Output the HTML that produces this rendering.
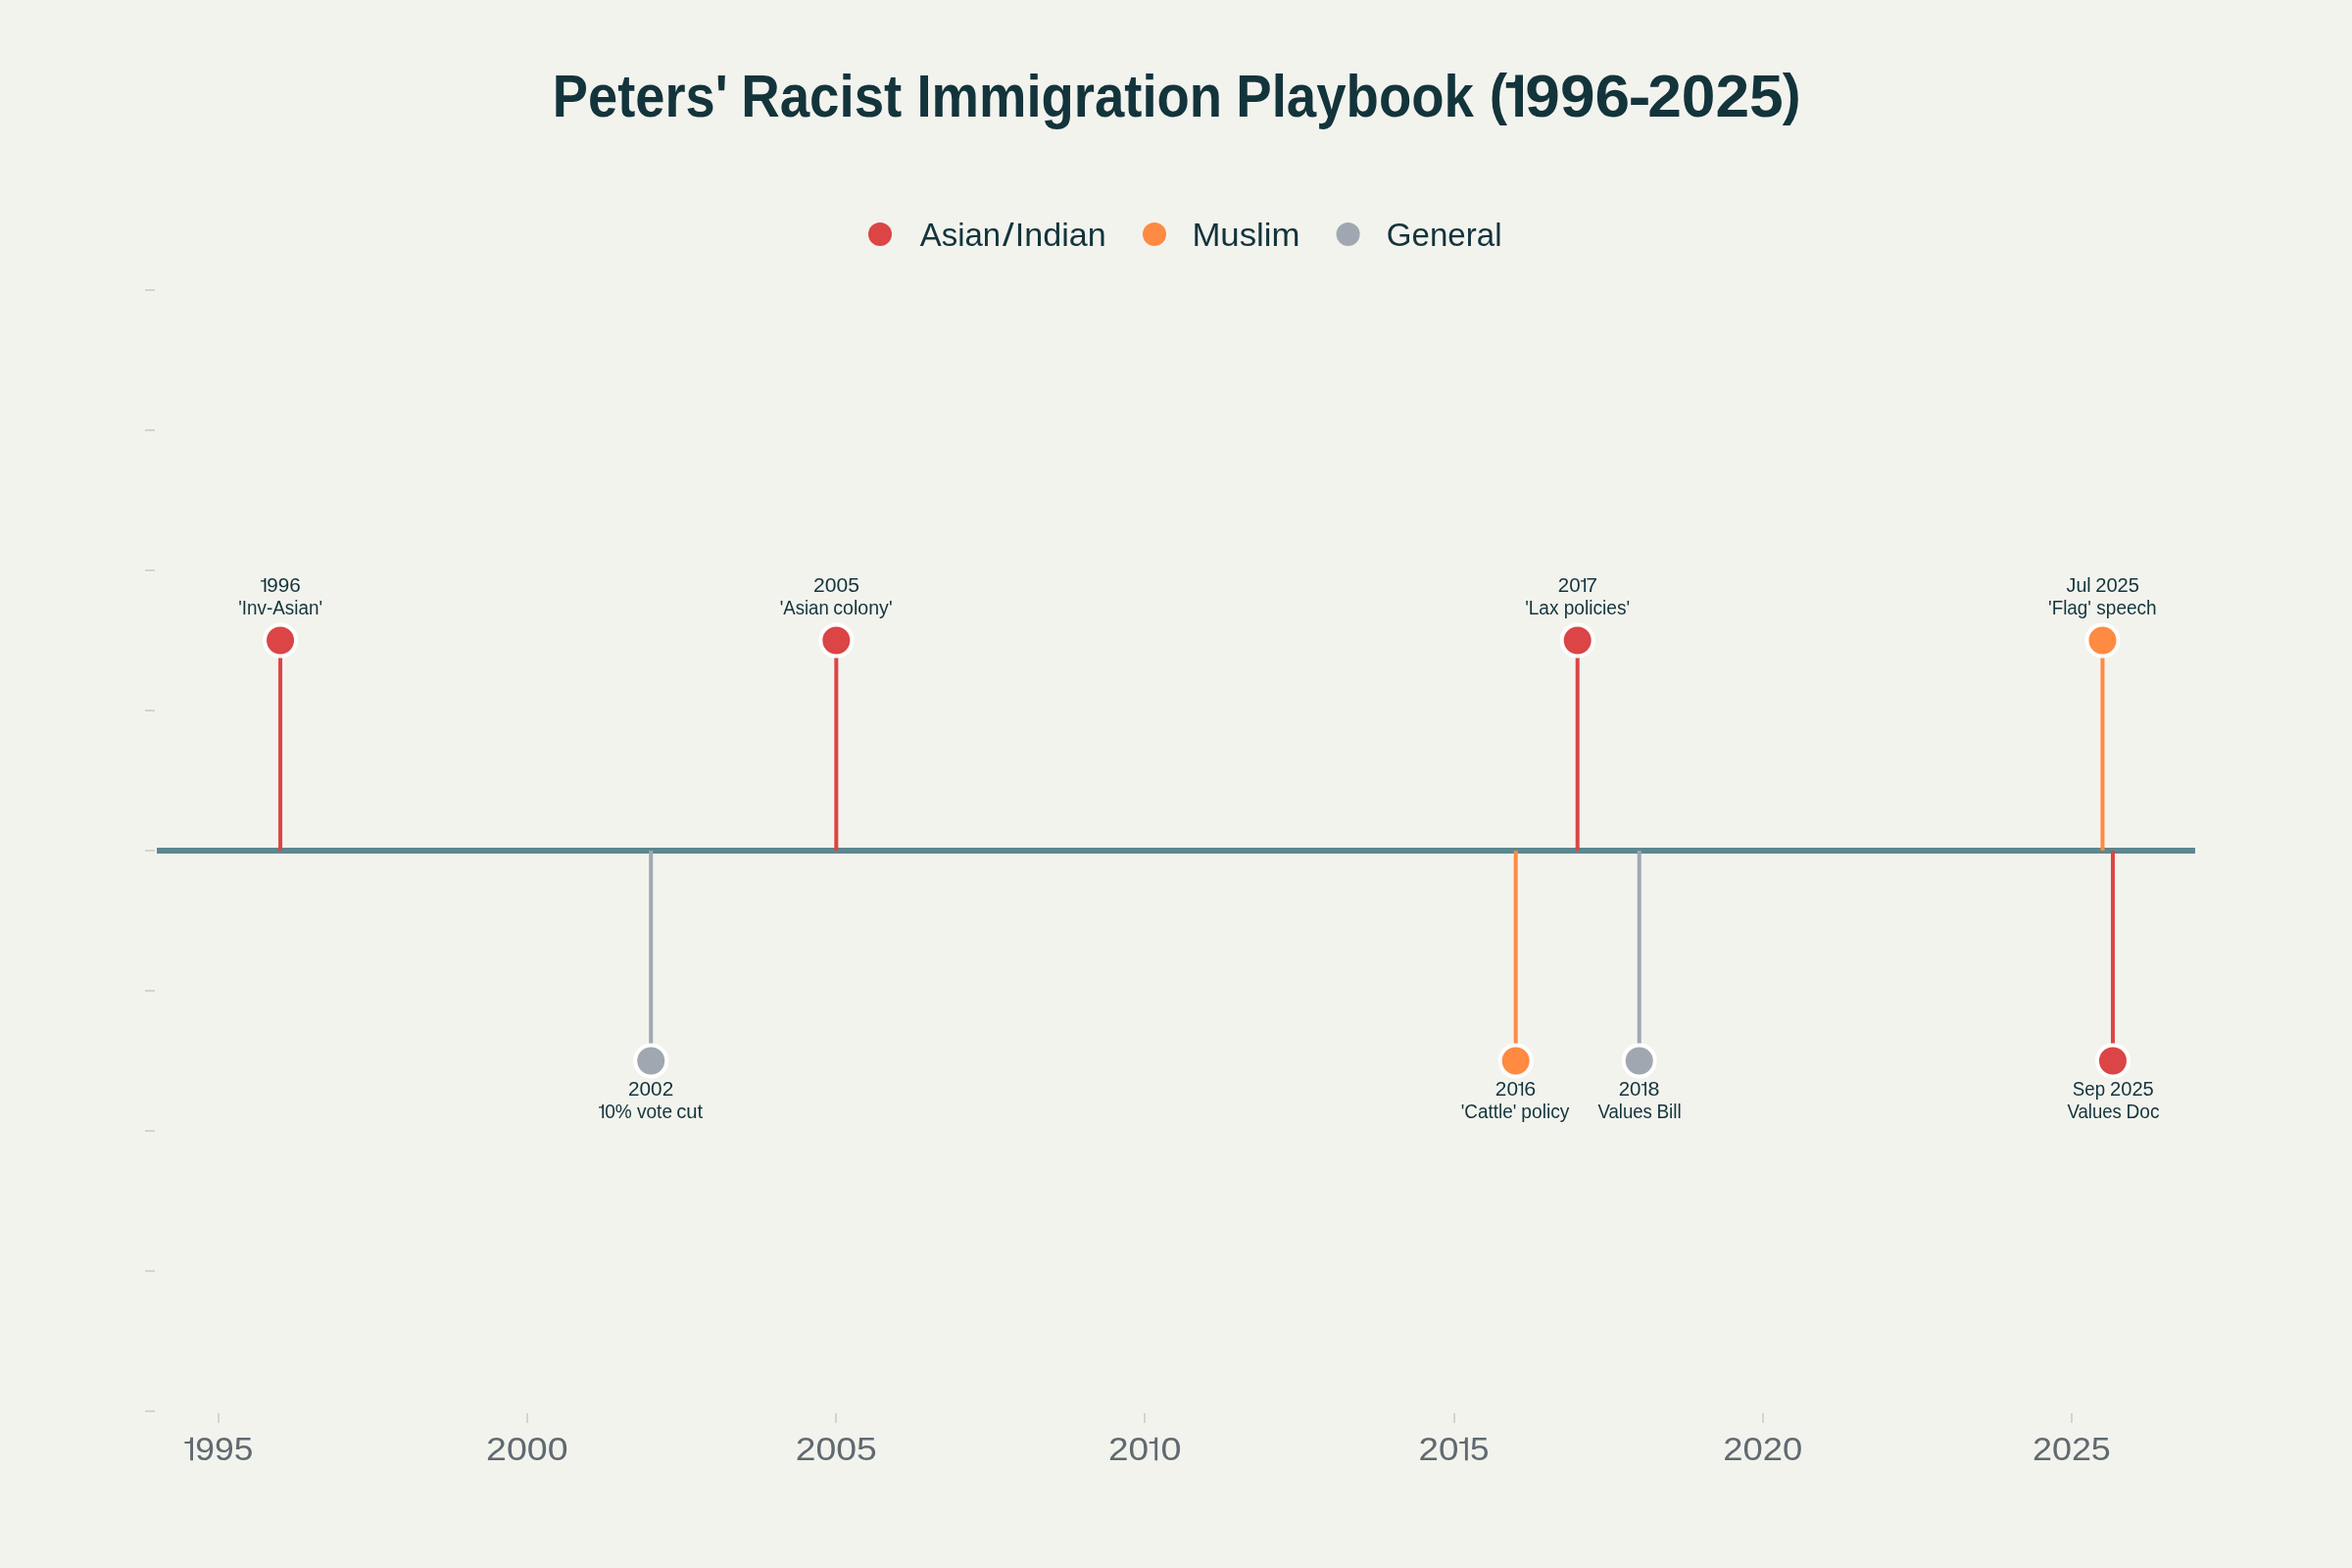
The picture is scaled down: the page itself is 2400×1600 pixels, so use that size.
<!DOCTYPE html><html><head><meta charset="utf-8"><title>Peters' Racist Immigration Playbook</title>
<style>html,body{margin:0;padding:0;background:#f3f3ee;width:2400px;height:1600px;overflow:hidden;}svg{display:block;will-change:transform;}text{font-family:"Liberation Sans",sans-serif;}</style></head><body>
<svg width="2400" height="1600" viewBox="0 0 2400 1600">
<rect x="0" y="0" width="2400" height="1600" fill="#f3f3ee"/>
<rect x="148" y="295" width="10" height="2" fill="#d5d3cb"/>
<rect x="148" y="438" width="10" height="2" fill="#d5d3cb"/>
<rect x="148" y="581" width="10" height="2" fill="#d5d3cb"/>
<rect x="148" y="724" width="10" height="2" fill="#d5d3cb"/>
<rect x="148" y="867" width="10" height="2" fill="#d5d3cb"/>
<rect x="148" y="1010" width="10" height="2" fill="#d5d3cb"/>
<rect x="148" y="1153" width="10" height="2" fill="#d5d3cb"/>
<rect x="148" y="1296" width="10" height="2" fill="#d5d3cb"/>
<rect x="148" y="1439" width="10" height="2" fill="#d5d3cb"/>
<rect x="222" y="1442" width="2" height="10" fill="#d5d3cb"/>
<rect x="537" y="1442" width="2" height="10" fill="#d5d3cb"/>
<rect x="852" y="1442" width="2" height="10" fill="#d5d3cb"/>
<rect x="1167" y="1442" width="2" height="10" fill="#d5d3cb"/>
<rect x="1483" y="1442" width="2" height="10" fill="#d5d3cb"/>
<rect x="1798" y="1442" width="2" height="10" fill="#d5d3cb"/>
<rect x="2113" y="1442" width="2" height="10" fill="#d5d3cb"/>
<rect x="160" y="865" width="2080" height="6" fill="#5d878f"/>
<rect x="284.06" y="653.50" width="4" height="214.50" fill="#db4545"/>
<rect x="662.24" y="868.00" width="4" height="214.50" fill="#9fa8b1"/>
<rect x="851.33" y="653.50" width="4" height="214.50" fill="#db4545"/>
<rect x="1544.67" y="868.00" width="4" height="214.50" fill="#ff8a42"/>
<rect x="1607.70" y="653.50" width="4" height="214.50" fill="#db4545"/>
<rect x="1670.73" y="868.00" width="4" height="214.50" fill="#9fa8b1"/>
<rect x="2143.45" y="653.50" width="4" height="214.50" fill="#ff8a42"/>
<rect x="2153.96" y="868.00" width="4" height="214.50" fill="#db4545"/>
<circle cx="286.06" cy="653.50" r="16" fill="#db4545" stroke="#ffffff" stroke-width="4"/>
<circle cx="664.24" cy="1082.50" r="16" fill="#9fa8b1" stroke="#ffffff" stroke-width="4"/>
<circle cx="853.33" cy="653.50" r="16" fill="#db4545" stroke="#ffffff" stroke-width="4"/>
<circle cx="1546.67" cy="1082.50" r="16" fill="#ff8a42" stroke="#ffffff" stroke-width="4"/>
<circle cx="1609.70" cy="653.50" r="16" fill="#db4545" stroke="#ffffff" stroke-width="4"/>
<circle cx="1672.73" cy="1082.50" r="16" fill="#9fa8b1" stroke="#ffffff" stroke-width="4"/>
<circle cx="2145.45" cy="653.50" r="16" fill="#ff8a42" stroke="#ffffff" stroke-width="4"/>
<circle cx="2155.96" cy="1082.50" r="16" fill="#db4545" stroke="#ffffff" stroke-width="4"/>
<circle cx="898.0" cy="239" r="12" fill="#db4545"/>
<circle cx="1178.0" cy="239" r="12" fill="#ff8a42"/>
<circle cx="1375.6" cy="239" r="12" fill="#9fa8b1"/>
<text transform="translate(563.77 118.90) scale(0.8858 1)" font-size="61.29" font-weight="bold" fill="#13343b">Peters'</text>
<text transform="translate(756.14 118.90) scale(0.8925 1)" font-size="61.29" font-weight="bold" fill="#13343b">Racist</text>
<text transform="translate(935.46 118.90) scale(0.8888 1)" font-size="61.29" font-weight="bold" fill="#13343b">Immigration</text>
<text transform="translate(1261.25 118.90) scale(0.8911 1)" font-size="61.29" font-weight="bold" fill="#13343b">Playbook</text>
<text transform="translate(1519.82 115.59) scale(0.9195 0.9608)" font-size="60.00" font-weight="bold" fill="#13343b">(</text>
<path transform="translate(1536.80 76.50) scale(0.4216 0.4240)" fill="#13343b" d="M22.3 0H40.8V100H22.3V31.2H0V17.6H16Q22.3 17.6 22.3 11Z"/>
<text transform="translate(1556.28 118.90) scale(1.0447 1)" font-size="61.29" font-weight="bold" fill="#13343b">996</text>
<text transform="translate(1661.38 118.90) scale(1.1295 1)" font-size="61.29" font-weight="bold" fill="#13343b">-</text>
<text transform="translate(1681.13 118.90) scale(1.0164 1)" font-size="61.29" font-weight="bold" fill="#13343b">2025</text>
<text transform="translate(1818.80 115.59) scale(0.9415 0.9608)" font-size="60.00" font-weight="bold" fill="#13343b">)</text>
<text transform="translate(938.70 250.60) scale(1.0194 1)" font-size="32.32" font-weight="normal" fill="#13343b">Asian</text>
<text transform="translate(1023.00 250.60) scale(1.2929 1)" font-size="32.32" font-weight="normal" fill="#13343b">/</text>
<text transform="translate(1035.73 250.60) scale(1.0557 1)" font-size="32.32" font-weight="normal" fill="#13343b">Indian</text>
<text transform="translate(1216.42 250.60) scale(1.0756 1)" font-size="32.32" font-weight="normal" fill="#13343b">Muslim</text>
<text transform="translate(1414.85 250.60) scale(1.0238 1)" font-size="32.32" font-weight="normal" fill="#13343b">General</text>
<path transform="translate(266.00 589.90) scale(0.1429 0.1400)" fill="#13343b" d="M25.2 0H37.8V100H25.2V26.1H0V17.6H18Q25.2 17 25.2 10Z"/>
<text transform="translate(272.27 603.90) scale(1.0217 1)" font-size="20.29" font-weight="normal" fill="#13343b">996</text>
<text transform="translate(243.15 627.10) scale(0.9250 1)" font-size="20.43" font-weight="normal" fill="#13343b">'Inv-Asian'</text>
<text transform="translate(829.95 603.90) scale(1.0396 1)" font-size="20.29" font-weight="normal" fill="#13343b">2005</text>
<text transform="translate(795.77 627.10) scale(0.9100 1)" font-size="20.43" font-weight="normal" fill="#13343b">'Asian</text>
<text transform="translate(850.32 627.10) scale(0.9589 1)" font-size="20.43" font-weight="normal" fill="#13343b">colony'</text>
<text transform="translate(1589.78 603.90) scale(1.0086 1)" font-size="20.29" font-weight="normal" fill="#13343b">20</text>
<path transform="translate(1613.00 589.90) scale(0.1323 0.1400)" fill="#13343b" d="M25.2 0H37.8V100H25.2V26.1H0V17.6H18Q25.2 17 25.2 10Z"/>
<text transform="translate(1618.35 603.90) scale(1.0393 1)" font-size="20.29" font-weight="normal" fill="#13343b">7</text>
<text transform="translate(1556.15 627.10) scale(0.9320 1)" font-size="20.43" font-weight="normal" fill="#13343b">'Lax</text>
<text transform="translate(1595.65 627.10) scale(0.9372 1)" font-size="20.43" font-weight="normal" fill="#13343b">policies'</text>
<text transform="translate(2108.61 603.90) scale(0.9684 1)" font-size="20.29" font-weight="normal" fill="#13343b">Jul</text>
<text transform="translate(2138.19 603.90) scale(0.9934 1)" font-size="20.29" font-weight="normal" fill="#13343b">2025</text>
<text transform="translate(2090.06 627.10) scale(0.9234 1)" font-size="20.43" font-weight="normal" fill="#13343b">'Flag'</text>
<text transform="translate(2139.32 627.10) scale(0.9309 1)" font-size="20.43" font-weight="normal" fill="#13343b">speech</text>
<text transform="translate(640.96 1117.90) scale(1.0258 1)" font-size="20.29" font-weight="normal" fill="#13343b">2002</text>
<path transform="translate(611.00 1126.90) scale(0.1349 0.1400)" fill="#13343b" d="M25.2 0H37.8V100H25.2V26.1H0V17.6H18Q25.2 17 25.2 10Z"/>
<text transform="translate(617.23 1140.90) scale(0.9419 1)" font-size="20.29" font-weight="normal" fill="#13343b">0%</text>
<text transform="translate(649.90 1140.90) scale(0.9436 1)" font-size="20.29" font-weight="normal" fill="#13343b">vote</text>
<text transform="translate(690.19 1140.90) scale(1.0001 1)" font-size="20.29" font-weight="normal" fill="#13343b">cut</text>
<text transform="translate(1525.86 1117.90) scale(1.0278 1)" font-size="20.29" font-weight="normal" fill="#13343b">20</text>
<path transform="translate(1549.20 1103.90) scale(0.1296 0.1400)" fill="#13343b" d="M25.2 0H37.8V100H25.2V26.1H0V17.6H18Q25.2 17 25.2 10Z"/>
<text transform="translate(1555.32 1117.90) scale(1.0599 1)" font-size="20.29" font-weight="normal" fill="#13343b">6</text>
<text transform="translate(1490.75 1140.90) scale(0.9319 1)" font-size="20.29" font-weight="normal" fill="#13343b">'Cattle'</text>
<text transform="translate(1552.35 1140.90) scale(0.9456 1)" font-size="20.29" font-weight="normal" fill="#13343b">policy</text>
<text transform="translate(1651.68 1117.90) scale(1.0086 1)" font-size="20.29" font-weight="normal" fill="#13343b">20</text>
<path transform="translate(1674.90 1103.90) scale(0.1323 0.1400)" fill="#13343b" d="M25.2 0H37.8V100H25.2V26.1H0V17.6H18Q25.2 17 25.2 10Z"/>
<text transform="translate(1681.54 1117.90) scale(1.0583 1)" font-size="20.29" font-weight="normal" fill="#13343b">8</text>
<text transform="translate(1630.50 1140.90) scale(0.9160 1)" font-size="20.29" font-weight="normal" fill="#13343b">Values</text>
<text transform="translate(1690.38 1140.90) scale(0.9391 1)" font-size="20.29" font-weight="normal" fill="#13343b">Bill</text>
<text transform="translate(2114.86 1117.90) scale(0.9198 1)" font-size="20.29" font-weight="normal" fill="#13343b">Sep</text>
<text transform="translate(2152.99 1117.90) scale(0.9934 1)" font-size="20.29" font-weight="normal" fill="#13343b">2025</text>
<text transform="translate(2109.50 1140.90) scale(0.9144 1)" font-size="20.29" font-weight="normal" fill="#13343b">Values</text>
<text transform="translate(2169.57 1140.90) scale(0.9425 1)" font-size="20.29" font-weight="normal" fill="#13343b">Doc</text>
<path transform="translate(188.40 1466.80) scale(0.2275 0.2340)" fill="#5f6a70" d="M25.2 0H37.8V100H25.2V26.1H0V17.6H18Q25.2 17 25.2 10Z"/>
<text transform="translate(199.31 1490.20) scale(1.0436 1)" font-size="33.91" font-weight="normal" fill="#5f6a70">995</text>
<text transform="translate(496.02 1490.20) scale(1.1073 1)" font-size="33.91" font-weight="normal" fill="#5f6a70">2000</text>
<text transform="translate(811.63 1490.20) scale(1.1029 1)" font-size="33.91" font-weight="normal" fill="#5f6a70">2005</text>
<text transform="translate(1130.95 1490.20) scale(1.0891 1)" font-size="33.91" font-weight="normal" fill="#5f6a70">20</text>
<path transform="translate(1172.80 1466.80) scale(0.2196 0.2340)" fill="#5f6a70" d="M25.2 0H37.8V100H25.2V26.1H0V17.6H18Q25.2 17 25.2 10Z"/>
<text transform="translate(1184.38 1490.20) scale(1.1126 1)" font-size="33.91" font-weight="normal" fill="#5f6a70">0</text>
<text transform="translate(1447.56 1490.20) scale(1.0833 1)" font-size="33.91" font-weight="normal" fill="#5f6a70">20</text>
<path transform="translate(1489.20 1466.80) scale(0.2275 0.2340)" fill="#5f6a70" d="M25.2 0H37.8V100H25.2V26.1H0V17.6H18Q25.2 17 25.2 10Z"/>
<text transform="translate(1499.99 1490.20) scale(1.0367 1)" font-size="33.91" font-weight="normal" fill="#5f6a70">5</text>
<text transform="translate(1758.18 1490.20) scale(1.0742 1)" font-size="33.91" font-weight="normal" fill="#5f6a70">2020</text>
<text transform="translate(2073.90 1490.20) scale(1.0601 1)" font-size="33.91" font-weight="normal" fill="#5f6a70">2025</text>
</svg></body></html>
